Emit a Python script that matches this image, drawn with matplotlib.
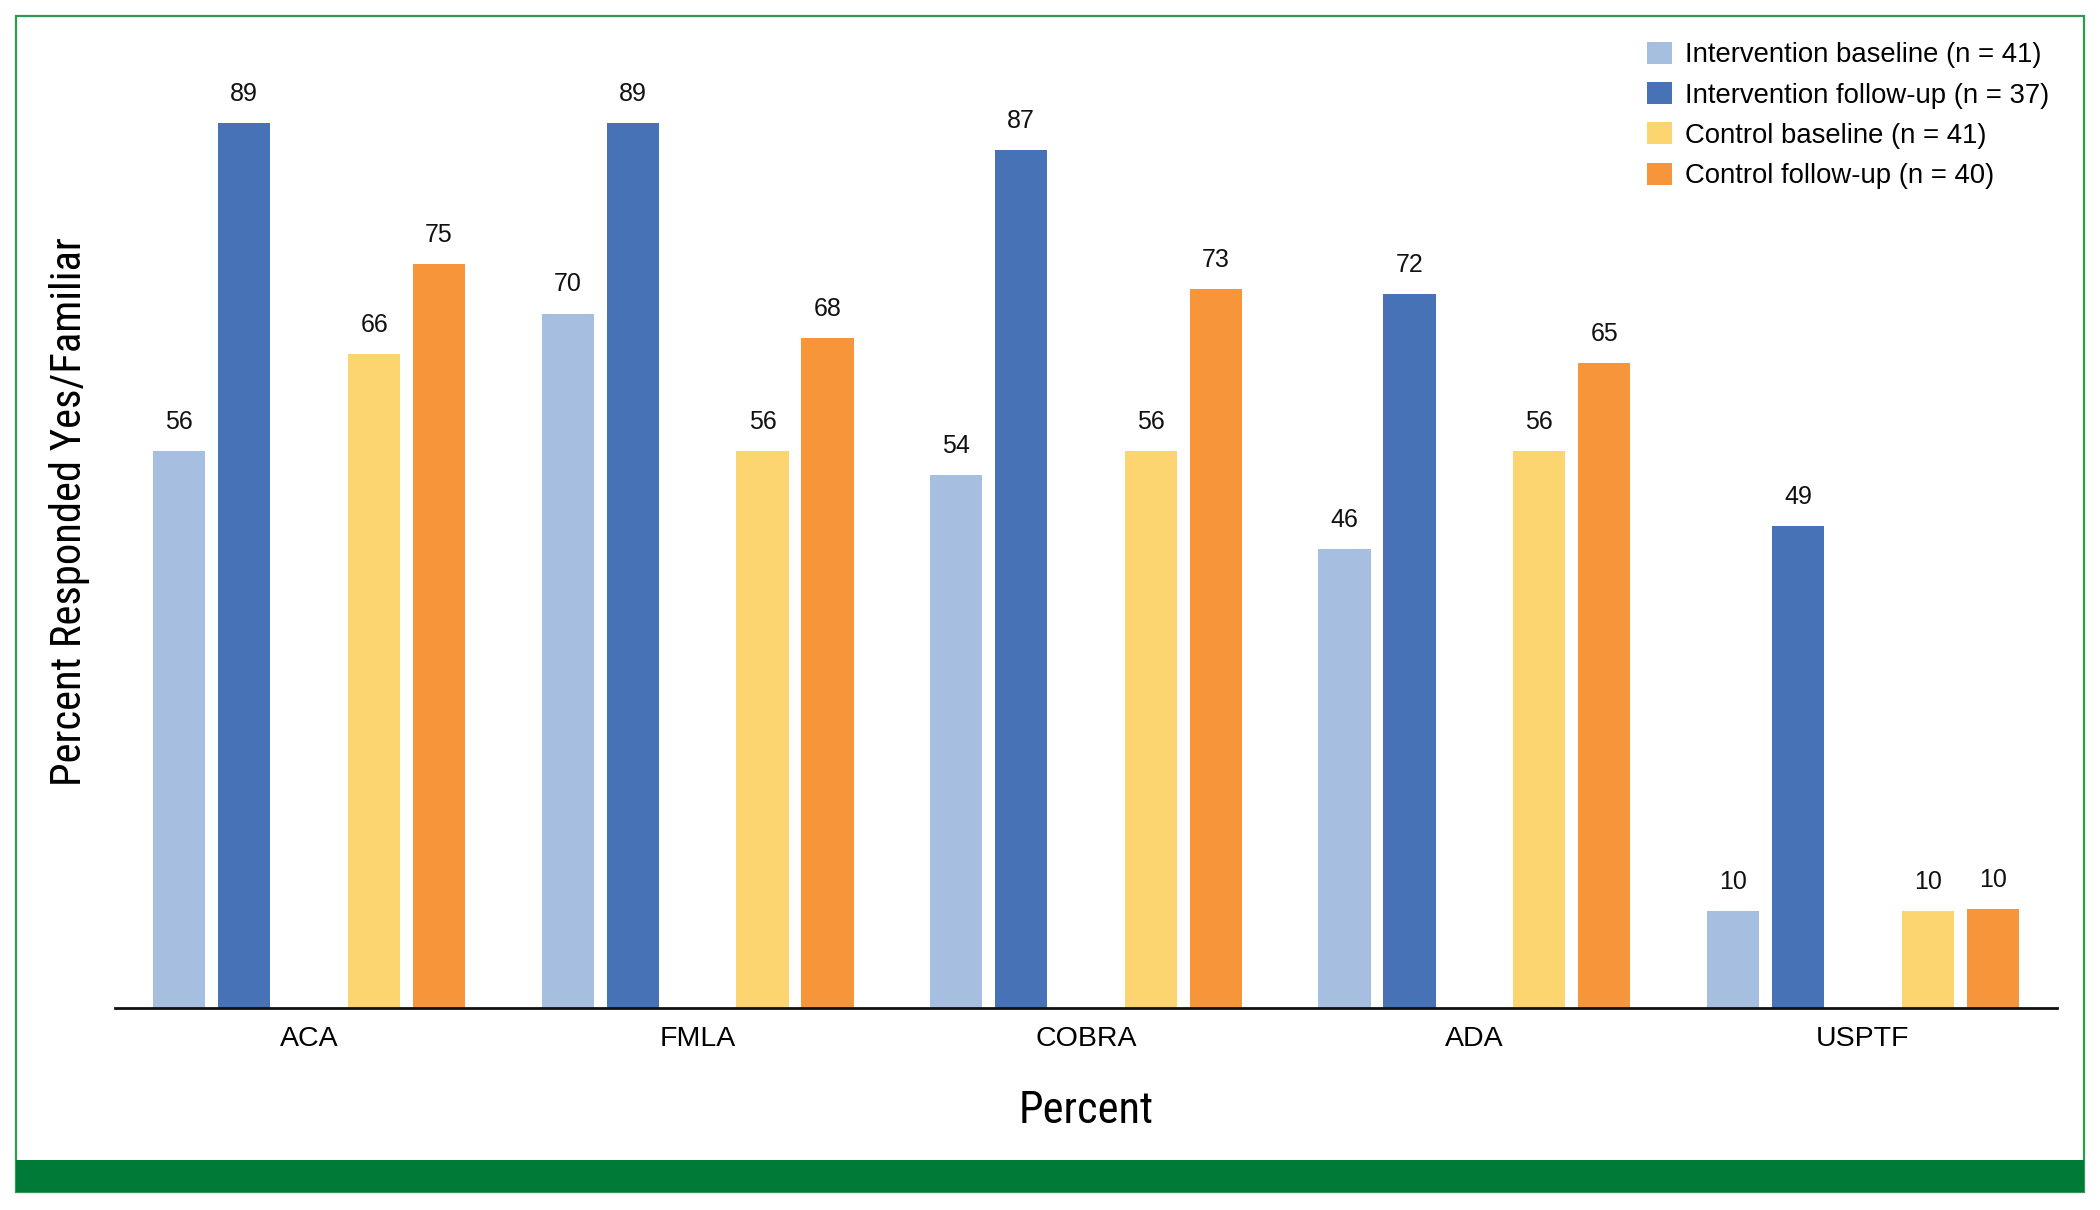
import matplotlib
matplotlib.use("Agg")
import matplotlib.pyplot as plt
import numpy as np
from matplotlib.patches import Rectangle, Patch
from matplotlib import font_manager as fm

categories = ["ACA", "FMLA", "COBRA", "ADA", "USPTF"]
series_names = [
    "Intervention baseline (n = 41)",
    "Intervention follow-up (n = 37)",
    "Control baseline (n = 41)",
    "Control follow-up (n = 40)",
]
int_baseline = [56.1, 70.0, 53.7, 46.3, 9.8]
int_followup = [89.2, 89.2, 86.5, 72.0, 48.6]
ctl_baseline = [65.9, 56.1, 56.1, 56.1, 9.8]
ctl_followup = [75.0, 67.5, 72.5, 65.0, 10.0]
colors = ["#A6BEDF", "#4872B6", "#FCD571", "#F7953B"]

series = [int_baseline, int_followup, ctl_baseline, ctl_followup]
slot_offsets = [-2, -1, 1, 2]
slot = 0.1672
width = 0.1345


def has_font(name):
    try:
        fm.findfont(fm.FontProperties(family=name), fallback_to_default=False)
        return True
    except Exception:
        return False


cond = None
for f in ["Roboto Condensed", "Liberation Sans Narrow", "Open Sans Condensed", "Noto Sans Condensed"]:
    if has_font(f):
        cond = f
        break
if cond:
    lab_family = [cond, "DejaVu Sans"]
    xlab_size, ylab_size = 32, 30.7
else:
    lab_family = ["Liberation Sans", "DejaVu Sans"]
    xlab_size, ylab_size = 27, 26

W, H = 2100, 1210
fig = plt.figure(figsize=(W / 100, H / 100), dpi=100)

ax = fig.add_axes([115 / W, 1 - 1008 / H, (2057 - 115) / W, (1008 - 16) / H])
x = np.arange(len(categories))
for vals, off, col in zip(series, slot_offsets, colors):
    bars = ax.bar(x + off * slot, vals, width=width, color=col, linewidth=0)
    for b, v in zip(bars, vals):
        ax.annotate(f"{int(v + 0.5)}", (b.get_x() + b.get_width() / 2, b.get_height()),
                    xytext=(0, 21), textcoords="offset points",
                    ha="center", va="center", fontsize=18,
                    family=["Liberation Sans", "DejaVu Sans"], color="#111111")

ax.set_xlim(-0.5, 4.5)
ax.set_ylim(0, 100)
for s in ["top", "right", "left"]:
    ax.spines[s].set_visible(False)
ax.spines["bottom"].set_linewidth(2)
ax.spines["bottom"].set_color("#111111")
ax.set_yticks([])
ax.set_xticks(x)
ax.set_xticklabels(categories, fontsize=20.5, family=["Liberation Sans", "DejaVu Sans"])
ax.tick_params(axis="x", length=0, pad=13)
ax.set_xlabel("Percent", fontsize=xlab_size, family=lab_family, labelpad=27)
ax.set_ylabel("Percent Responded Yes/Familiar", fontsize=ylab_size,
              family=lab_family, labelpad=18)

handles = [Patch(facecolor=c, edgecolor="none") for c in colors]
fig.legend(handles, series_names, loc="upper left",
           bbox_to_anchor=(1647 / W, 1 - 42 / H), bbox_transform=fig.transFigure,
           frameon=False, borderpad=0, borderaxespad=0,
           handlelength=0.92, handleheight=0.85, handletextpad=0.45,
           labelspacing=0.50,
           prop={"family": ["Liberation Sans", "DejaVu Sans"], "size": 19.8})

# frame and bottom band
fig.patches.append(Rectangle((16 / W, 1 - 1192 / H), (2084 - 16) / W, (1192 - 16) / H,
                             transform=fig.transFigure, fill=False,
                             edgecolor="#2E9A50", linewidth=1.6, zorder=0))
fig.patches.append(Rectangle((16 / W, 1 - 1192 / H), (2084 - 16) / W, 32 / H,
                             transform=fig.transFigure, facecolor="#007A37",
                             edgecolor="none", zorder=1))

fig.savefig("out.png", dpi=100, facecolor="white")
